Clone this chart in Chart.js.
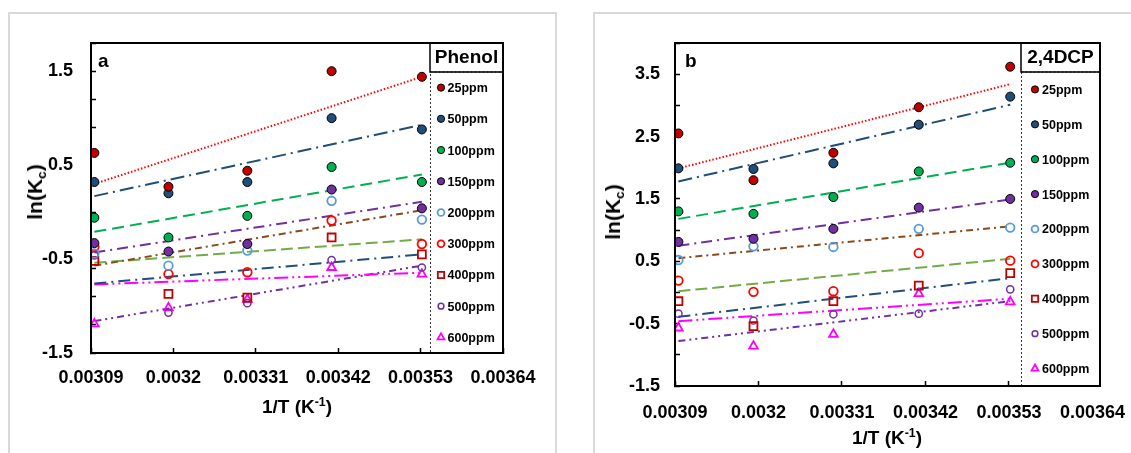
<!DOCTYPE html>
<html>
<head>
<meta charset="utf-8">
<title>ln(Kc) vs 1/T</title>
<script src="https://cdn.jsdelivr.net/npm/chart.js@4.4.1/dist/chart.umd.min.js"></script>
<style>
  body { margin: 0; width: 1131px; height: 453px; overflow: hidden; background: #fff; position: relative;
         font-family: "Liberation Sans", Arial, sans-serif; }
  .panel { position: absolute; top: 12px; height: 470px; border: 2px solid #d9d9d9; box-sizing: border-box; }
  canvas { position: absolute; }
  .ytitle, .xtitle { position: absolute; font-weight: bold; white-space: nowrap; color: #000; }
  .ytitle { font-size: 21px; transform: translate(-50%, -50%) rotate(-90deg); }
  .xtitle { font-size: 19px; transform: translate(-50%, -50%); }
  sub, sup { font-size: 0.65em; vertical-align: baseline; position: relative; }
  sub { top: 0.3em; }
  sup { top: -0.55em; }
</style>
</head>
<body>
<div class="panel" style="left:8px;width:549px"></div>
<div class="panel" style="left:593px;width:560px"></div>
<canvas id="phenol" width="540" height="439" style="left:10px;top:14px"></canvas>
<canvas id="dcp" width="536" height="439" style="left:595px;top:14px"></canvas>
<div class="ytitle" style="left:35px;top:192px">ln(K<sub>c</sub>)</div>
<div class="xtitle" style="left:297px;top:407px">1/T (K<sup>-1</sup>)</div>
<div class="ytitle" style="left:613px;top:212px">ln(K<sub>c</sub>)</div>
<div class="xtitle" style="left:887px;top:438px">1/T (K<sup>-1</sup>)</div>
<script>
// 1/T of the five temperatures, K^-1
const invT = [0.0030945, 0.0031934, 0.0032987, 0.0034112, 0.0035317];
const concentrations = ['25ppm', '50ppm', '100ppm', '150ppm', '200ppm', '300ppm', '400ppm', '500ppm', '600ppm'];

const xTickValues = [0.00309, 0.0032, 0.00331, 0.00342, 0.00353, 0.00364];
const xTickLabels = ['0.00309', '0.0032', '0.00331', '0.00342', '0.00353', '0.00364'];

// (a) phenol, ln(Kc)
const phenol25 = [0.63, 0.27, 0.44, 1.50, 1.44];
const phenol50 = [0.32, 0.20, 0.32, 1.00, 0.88];
const phenol100 = [-0.06, -0.27, -0.04, 0.48, 0.32];
const phenol150 = [-0.33, -0.42, -0.34, 0.24, 0.04];
const phenol200 = [-0.44, -0.57, -0.41, 0.12, -0.08];
const phenol300 = [-0.37, -0.66, -0.64, -0.09, -0.34];
const phenol400 = [-0.52, -0.87, -0.91, -0.27, -0.45];
const phenol500 = [-0.46, -1.07, -0.97, -0.51, -0.59];
const phenol600 = [-1.19, -1.02, -0.93, -0.59, -0.66];
// linear trend lines, value at first and last temperature
const phenolFitStart = [0.30, 0.17, -0.21, -0.43, -0.57, -0.54, -0.76, -0.77, -1.16];
const phenolFitEnd = [1.44, 0.93, 0.40, 0.11, 0.02, -0.29, -0.45, -0.645, -0.57];
const phenolYMarks = [-1.5, -1.2, -0.9, -0.6, -0.3, 0, 0.3, 0.6, 0.9, 1.2, 1.5, 1.8];
const phenolYLabels = [-1.5, -0.5, 0.5, 1.5];

// (b) 2,4-DCP, ln(Kc)
const dcp25 = [2.55, 1.80, 2.24, 2.97, 3.62];
const dcp50 = [1.99, 1.98, 2.07, 2.69, 3.14];
const dcp100 = [1.30, 1.26, 1.53, 1.94, 2.08];
const dcp150 = [0.81, 0.86, 1.02, 1.36, 1.50];
const dcp200 = [0.52, 0.74, 0.73, 1.02, 1.04];
const dcp300 = [0.19, 0.01, 0.02, 0.63, 0.51];
const dcp400 = [-0.14, -0.54, -0.14, 0.11, 0.31];
const dcp500 = [-0.34, -0.45, -0.35, -0.34, 0.05];
const dcp600 = [-0.57, -0.86, -0.67, -0.02, -0.15];
const dcpFitStart = [1.99, 1.78, 1.18, 0.75, 0.55, 0.02, -0.39, -0.46, -0.78];
const dcpFitEnd = [3.34, 3.01, 2.08, 1.49, 1.06, 0.54, 0.23, -0.10, -0.14];
const dcpYMarks = [-1.5, -1, -0.5, 0, 0.5, 1, 1.5, 2, 2.5, 3, 3.5, 4];
const dcpYLabels = [-1.5, -0.5, 0.5, 1.5, 2.5, 3.5];

const FONT = 'Liberation Sans, Arial, sans-serif';
Chart.defaults.font.family = FONT;

// marker look per concentration
const markers = [
  {style: 'circle', r: 4.5, fill: '#C00000', line: '#000', w: 1},
  {style: 'circle', r: 4.5, fill: '#1F4E79', line: '#000', w: 1},
  {style: 'circle', r: 4.5, fill: '#00B050', line: '#000', w: 1},
  {style: 'circle', r: 4.5, fill: '#7030A0', line: '#000', w: 1},
  {style: 'circle', r: 4.3, fill: 'rgba(255,255,255,0)', line: '#5B9BD5', w: 1.8},
  {style: 'circle', r: 4.3, fill: 'rgba(255,255,255,0)', line: '#FF0000', w: 1.8},
  {style: 'rect', r: 5.6, fill: 'rgba(255,255,255,0)', line: '#C00000', w: 1.8},
  {style: 'circle', r: 3.6, fill: 'rgba(255,255,255,0)', line: '#7030A0', w: 1.5},
  {style: 'triangle', r: 5, fill: 'rgba(255,255,255,0)', line: '#FF00FF', w: 1.8}
];
// trend line look per concentration
const fits = [
  {color: '#FF0000', dash: [1.5, 2]},
  {color: '#1F4E79', dash: [14, 5, 2, 5]},
  {color: '#00B050', dash: [12, 6]},
  {color: '#7030A0', dash: [11, 5, 2, 5]},
  {color: '#8B4A1C', dash: [7, 4, 2, 4]},
  {color: '#70AD47', dash: [12, 5]},
  {color: '#1F4E79', dash: [12, 5, 2, 5]},
  {color: '#FF00FF', dash: [14, 4, 2, 4, 2, 4]},
  {color: '#7030A0', dash: [7, 4, 2, 4, 2, 4]}
];

function buildDatasets(series, fitStart, fitEnd) {
  const sets = series.map((ys, i) => ({
    label: concentrations[i],
    data: ys.map((y, j) => ({x: invT[j], y: y})),
    showLine: false,
    pointStyle: markers[i].style,
    pointRadius: markers[i].r,
    pointBackgroundColor: markers[i].fill,
    pointBorderColor: markers[i].line,
    pointBorderWidth: markers[i].w
  }));
  series.forEach((ys, i) => sets.push({
    label: concentrations[i] + ' trend',
    isFit: true,
    data: [{x: invT[0], y: fitStart[i]}, {x: invT[invT.length - 1], y: fitEnd[i]}],
    showLine: true,
    pointRadius: 0,
    borderColor: fits[i].color,
    borderDash: fits[i].dash,
    borderWidth: 2
  }));
  return sets;
}

const near = (a, b) => Math.abs(a - b) < 1e-7;

function yAxis(min, max, marks, labels, width, pad) {
  return {
    type: 'linear', min: min, max: max,
    afterBuildTicks: s => {
      const vals = marks.concat(labels.filter(l => !marks.some(m => near(m, l))));
      s.ticks = vals.sort((a, b) => a - b).map(v => ({value: v}));
    },
    afterFit: s => { s.width = width; s.paddingTop = 0; s.paddingBottom = 0; },
    border: {display: true, color: '#000', width: 2},
    grid: {
      drawOnChartArea: false, drawTicks: true, tickLength: -5, tickWidth: 1.5,
      tickColor: c => marks.some(m => near(m, c.tick.value)) ? '#000' : 'rgba(0,0,0,0)'
    },
    ticks: {
      autoSkip: false, padding: pad, color: '#000',
      font: {size: 18, weight: 'bold'},
      callback: v => labels.some(l => near(l, v)) ? String(v) : ''
    }
  };
}

function xAxis(max, height, pad) {
  return {
    type: 'linear', position: 'bottom', min: 0.00309, max: max,
    afterBuildTicks: s => { s.ticks = xTickValues.map(v => ({value: v})); },
    // the last label may hang past the frame, as in the original
    afterFit: s => { s.height = height; s.paddingLeft = 0; s.paddingRight = 0; },
    border: {display: true, color: '#000', width: 2},
    grid: {drawOnChartArea: false, drawTicks: true, tickLength: -5, tickWidth: 1.5, tickColor: '#000'},
    ticks: {
      autoSkip: false, maxRotation: 0, minRotation: 0, padding: pad, color: '#000',
      font: {size: 18, weight: 'bold'},
      callback: (v, i) => xTickLabels[i]
    }
  };
}

function drawMarker(ctx, m, scale, x, y) {
  const r = m.r * scale;
  ctx.fillStyle = m.fill;
  ctx.strokeStyle = m.line;
  ctx.lineWidth = m.w;
  ctx.beginPath();
  if (m.style === 'rect') {
    const s = r * Math.SQRT1_2;
    ctx.rect(x - s, y - s, 2 * s, 2 * s);
  } else if (m.style === 'triangle') {
    for (let k = 0; k < 3; k++) {
      const a = k * 2 * Math.PI / 3;
      const px = x + Math.sin(a) * r, py = y - Math.cos(a) * r;
      k === 0 ? ctx.moveTo(px, py) : ctx.lineTo(px, py);
    }
    ctx.closePath();
  } else {
    ctx.arc(x, y, r, 0, 2 * Math.PI);
  }
  ctx.fill();
  ctx.stroke();
}

// legend box inside the plot, panel letter and frame
const panelDecor = {
  id: 'panelDecor',
  afterDraw(chart, args, o) {
    const {ctx, chartArea: a} = chart;
    const left = a.right - o.width;
    const titleBottom = a.top + 29;
    ctx.save();
    ctx.fillStyle = '#fff';
    ctx.fillRect(left, a.top, o.width, a.bottom - a.top);
    ctx.setLineDash([2, 2]);
    ctx.strokeStyle = '#333';
    ctx.lineWidth = 1;
    ctx.strokeRect(left + 0.5, titleBottom, o.width, a.bottom - titleBottom);
    ctx.setLineDash([]);
    ctx.strokeStyle = '#000';
    ctx.lineWidth = 1.5;
    ctx.strokeRect(left, a.top, o.width, titleBottom - a.top);
    ctx.fillStyle = '#000';
    ctx.font = 'bold 19px ' + FONT;
    ctx.textAlign = 'center';
    ctx.textBaseline = 'middle';
    ctx.fillText(o.title, left + o.width / 2, a.top + 15);

    const items = chart.data.datasets.filter(d => !d.isFit);
    const step = (a.bottom - titleBottom) / items.length;
    ctx.font = 'bold 12.5px ' + FONT;
    ctx.textAlign = 'left';
    items.forEach((d, i) => {
      const y = titleBottom + (i + 0.5) * step;
      drawMarker(ctx, markers[i], 0.8, left + o.markerDx, y);
      ctx.fillStyle = '#000';
      ctx.fillText(d.label, left + o.textDx, y + 1);
    });

    ctx.font = 'bold 19px ' + FONT;
    ctx.textBaseline = 'alphabetic';
    ctx.fillText(o.letter, a.left + o.letterDx, a.top + o.letterDy);

    ctx.strokeStyle = '#000';
    ctx.lineWidth = 2;
    ctx.strokeRect(a.left, a.top, a.right - a.left, a.bottom - a.top);
    ctx.restore();
  }
};

function makeChart(id, datasets, scales, padding, decor) {
  return new Chart(document.getElementById(id), {
    type: 'scatter',
    data: {datasets: datasets},
    options: {
      responsive: false,
      animation: false,
      events: [],
      layout: {padding: padding},
      scales: scales,
      plugins: {legend: {display: false}, tooltip: {enabled: false}, panelDecor: decor}
    },
    plugins: [panelDecor]
  });
}

makeChart('phenol',
  buildDatasets([phenol25, phenol50, phenol100, phenol150, phenol200, phenol300, phenol400, phenol500, phenol600],
    phenolFitStart, phenolFitEnd),
  {x: xAxis(0.00364, 100, 19), y: yAxis(-1.5, 1.8, phenolYMarks, phenolYLabels, 81, 23)},
  {left: 0, top: 29, right: 47, bottom: 0},
  {title: 'Phenol', width: 73, markerDx: 11, textDx: 17.5, letter: 'a', letterDx: 7, letterDy: 24});

makeChart('dcp',
  buildDatasets([dcp25, dcp50, dcp100, dcp150, dcp200, dcp300, dcp400, dcp500, dcp600],
    dcpFitStart, dcpFitEnd),
  {x: xAxis(0.00365, 67, 21), y: yAxis(-1.5, 4.0, dcpYMarks, dcpYLabels, 80, 20)},
  {left: 0, top: 29, right: 31, bottom: 0},
  {title: '2,4DCP', width: 79, markerDx: 14, textDx: 21, letter: 'b', letterDx: 10, letterDy: 24});
</script>
</body>
</html>
